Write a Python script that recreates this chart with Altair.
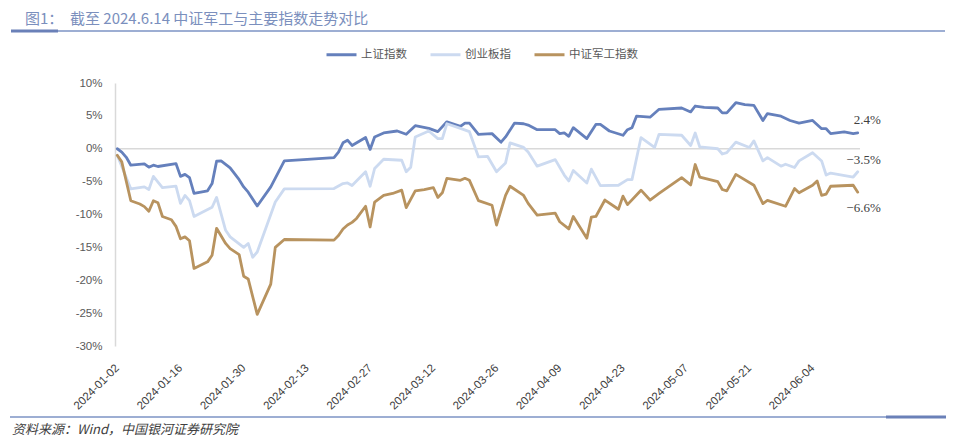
import altair as alt
import pandas as pd

SERIES = ["上证指数", "创业板指", "中证军工指数"]
COLORS = ["#6580BC", "#CCDAF0", "#B8935F"]

TITLE_NO = "图1："
TITLE = "截至 2024.6.14 中证军工与主要指数走势对比"
SOURCE = "资料来源：Wind，中国银河证券研究院"

TICK_DATES = [(1, 2), (1, 16), (1, 30), (2, 13), (2, 27), (3, 12), (3, 26),
              (4, 9), (4, 23), (5, 7), (5, 21), (6, 4)]
Y_TICKS = [-30, -25, -20, -15, -10, -5, 0, 5, 10]

# 上证指数
sh_dates = ["2024-01-02", "2024-01-03", "2024-01-04", "2024-01-05", "2024-01-08", "2024-01-09",
            "2024-01-10", "2024-01-11", "2024-01-15", "2024-01-16", "2024-01-17", "2024-01-18",
            "2024-01-19", "2024-01-22", "2024-01-23", "2024-01-24", "2024-01-25", "2024-01-27",
            "2024-01-29", "2024-01-30", "2024-01-31", "2024-02-02", "2024-02-05", "2024-02-08",
            "2024-02-19", "2024-02-20", "2024-02-21", "2024-02-22", "2024-02-23", "2024-02-26",
            "2024-02-27", "2024-02-28", "2024-03-01", "2024-03-04", "2024-03-06", "2024-03-08",
            "2024-03-11", "2024-03-13", "2024-03-15", "2024-03-18", "2024-03-19", "2024-03-20",
            "2024-03-22", "2024-03-25", "2024-03-27", "2024-03-28", "2024-03-30", "2024-04-01",
            "2024-04-02", "2024-04-04", "2024-04-08", "2024-04-09", "2024-04-10", "2024-04-11",
            "2024-04-12", "2024-04-15", "2024-04-17", "2024-04-18", "2024-04-20", "2024-04-23",
            "2024-04-24", "2024-04-25", "2024-04-26", "2024-04-29", "2024-05-01", "2024-05-06",
            "2024-05-08", "2024-05-09", "2024-05-11", "2024-05-14", "2024-05-15", "2024-05-16",
            "2024-05-18", "2024-05-20", "2024-05-22", "2024-05-24", "2024-05-25", "2024-05-28",
            "2024-05-30", "2024-06-01", "2024-06-04", "2024-06-06", "2024-06-07", "2024-06-08",
            "2024-06-11", "2024-06-13", "2024-06-14"]
sh_vals = [0.0, -0.5, -1.3, -2.5, -2.3, -2.8,
           -2.5, -2.7, -2.25, -4.2, -3.9, -4.4,
           -6.8, -6.4, -5.3, -1.9, -1.85, -2.9,
           -4.7, -5.8, -6.6, -8.7, -5.8, -1.85,
           -1.35, -0.5, 0.9, 1.3, 0.5, 1.7,
           -0.1, 1.8, 2.4, 2.7, 2.2, 3.5,
           3.1, 2.6, 4.1, 3.4, 3.9, 3.9,
           2.2, 2.3, 1.0, 1.8, 3.9, 3.8,
           3.6, 2.9, 2.9, 2.3, 2.4, 1.9,
           3.2, 1.55, 3.7, 3.7, 2.7, 2.05,
           2.9, 3.2, 4.95, 4.8, 6.0, 6.2,
           5.6, 6.5, 6.3, 6.2, 5.45, 5.45,
           7.0, 6.7, 6.6, 4.3, 5.35, 4.95,
           4.3, 3.9, 4.3, 3.05, 3.05, 2.3,
           2.55, 2.3, 2.4]

# 创业板指
cy_dates = ["2024-01-02", "2024-01-05", "2024-01-08", "2024-01-09", "2024-01-10", "2024-01-12",
            "2024-01-15", "2024-01-16", "2024-01-17", "2024-01-18", "2024-01-19", "2024-01-23",
            "2024-01-24", "2024-01-26", "2024-01-27", "2024-01-30", "2024-01-31", "2024-02-01",
            "2024-02-02", "2024-02-06", "2024-02-08", "2024-02-19", "2024-02-21", "2024-02-22",
            "2024-02-23", "2024-02-26", "2024-02-27", "2024-02-28", "2024-03-01", "2024-03-05",
            "2024-03-06", "2024-03-07", "2024-03-08", "2024-03-11", "2024-03-13", "2024-03-14",
            "2024-03-15", "2024-03-18", "2024-03-20", "2024-03-22", "2024-03-24", "2024-03-26",
            "2024-03-28", "2024-03-29", "2024-04-01", "2024-04-02", "2024-04-04", "2024-04-08",
            "2024-04-10", "2024-04-11", "2024-04-12", "2024-04-15", "2024-04-16", "2024-04-18",
            "2024-04-22", "2024-04-24", "2024-04-25", "2024-04-27", "2024-04-30", "2024-05-01",
            "2024-05-06", "2024-05-08", "2024-05-09", "2024-05-10", "2024-05-14", "2024-05-15",
            "2024-05-16", "2024-05-18", "2024-05-21", "2024-05-22", "2024-05-24", "2024-05-25",
            "2024-05-28", "2024-05-29", "2024-05-31", "2024-06-01", "2024-06-04", "2024-06-06",
            "2024-06-07", "2024-06-08", "2024-06-13", "2024-06-14"]
cy_vals = [-1.0, -6.1, -5.8, -6.2, -4.2, -5.9,
           -5.7, -8.3, -7.1, -7.9, -10.3, -8.9,
           -7.4, -12.4, -13.4, -15.0, -14.4, -16.5,
           -15.7, -8.1, -6.1, -6.05, -5.3, -5.2,
           -5.6, -3.5, -5.7, -3.0, -1.6, -1.75,
           -3.5, -2.8, 1.8, 2.7, 1.55, 1.55,
           3.8, 3.1, 2.6, -1.25, -1.15, -3.5,
           -2.15, 0.9, 0.2, -0.5, -2.65, -1.65,
           -4.0, -4.9, -3.3, -5.2, -3.1, -5.6,
           -5.55, -4.7, -4.7, 1.7, 0.2, 2.2,
           2.05, 0.5, 2.4, 0.3, 0.0, -0.8,
           -0.6, 1.0, 0.2, 1.2, -1.85, -1.35,
           -2.65, -2.35, -2.85, -1.85, -0.6, -1.85,
           -4.0, -3.7, -4.3, -3.5]

# 中证军工指数
jg_dates = ["2024-01-02", "2024-01-03", "2024-01-05", "2024-01-07", "2024-01-08", "2024-01-09",
            "2024-01-10", "2024-01-11", "2024-01-12", "2024-01-14", "2024-01-15", "2024-01-16",
            "2024-01-17", "2024-01-18", "2024-01-19", "2024-01-22", "2024-01-23", "2024-01-24",
            "2024-01-26", "2024-01-27", "2024-01-29", "2024-01-30", "2024-01-31", "2024-02-02",
            "2024-02-05", "2024-02-06", "2024-02-08", "2024-02-19", "2024-02-20", "2024-02-21",
            "2024-02-22", "2024-02-23", "2024-02-24", "2024-02-26", "2024-02-27", "2024-02-28",
            "2024-03-01", "2024-03-03", "2024-03-05", "2024-03-06", "2024-03-08", "2024-03-10",
            "2024-03-12", "2024-03-13", "2024-03-14", "2024-03-15", "2024-03-18", "2024-03-19",
            "2024-03-20", "2024-03-22", "2024-03-25", "2024-03-26", "2024-03-28", "2024-03-29",
            "2024-04-01", "2024-04-02", "2024-04-04", "2024-04-08", "2024-04-09", "2024-04-11",
            "2024-04-12", "2024-04-15", "2024-04-16", "2024-04-17", "2024-04-19", "2024-04-22",
            "2024-04-23", "2024-04-24", "2024-04-27", "2024-04-29", "2024-05-01", "2024-05-06",
            "2024-05-08", "2024-05-09", "2024-05-10", "2024-05-14", "2024-05-15", "2024-05-16",
            "2024-05-18", "2024-05-22", "2024-05-24", "2024-05-25", "2024-05-29", "2024-05-31",
            "2024-06-01", "2024-06-04", "2024-06-05", "2024-06-06", "2024-06-07", "2024-06-08",
            "2024-06-13", "2024-06-14"]
jg_vals = [-1.0, -2.0, -7.9, -8.4, -8.8, -9.5,
           -7.9, -8.2, -10.3, -10.8, -11.8, -13.7,
           -13.4, -14.0, -18.2, -17.2, -16.2, -12.1,
           -14.4, -15.2, -16.1, -19.4, -19.8, -25.2,
           -20.6, -15.0, -13.8, -13.9, -13.2, -12.2,
           -11.6, -11.2, -10.6, -8.75, -11.9, -8.1,
           -7.1, -6.8, -6.3, -8.95, -6.4, -6.2,
           -5.9, -7.4, -6.7, -4.5, -4.8, -4.5,
           -4.8, -7.9, -8.6, -11.6, -7.1, -5.7,
           -7.1, -8.3, -10.1, -9.8, -11.1, -12.2,
           -10.3, -13.6, -10.4, -10.3, -7.8, -9.2,
           -7.2, -8.5, -6.3, -7.8, -6.8, -4.4,
           -5.5, -2.4, -4.3, -5.0, -6.2, -6.4,
           -3.9, -5.55, -8.35, -7.85, -8.75, -6.05,
           -6.7, -5.55, -4.9, -7.1, -6.9, -5.7,
           -5.55, -6.6]


def frame(name, dates, vals):
    return pd.DataFrame({"date": dates, "value": vals, "series": name})


frames = [frame(SERIES[0], sh_dates, sh_vals),
          frame(SERIES[1], cy_dates, cy_vals),
          frame(SERIES[2], jg_dates, jg_vals)]

CJK = "Noto Sans CJK SC"

x_enc = alt.X(
    "date:T",
    scale=alt.Scale(
        type="utc",
        domain=[alt.DateTime(year=2024, month=1, date=1, hours=12, utc=True),
                alt.DateTime(year=2024, month=6, date=14, hours=12, utc=True)],
    ),
    axis=alt.Axis(
        values=[alt.DateTime(year=2024, month=m, date=d, utc=True) for m, d in TICK_DATES],
        labelExpr="utcFormat(datum.value, '%Y-%m-%d')", labelAngle=-45, labelAlign="right",
        labelBaseline="middle", labelPadding=20, domain=False, ticks=False, grid=False,
        labelFont="Liberation Sans", labelFontSize=11.5, labelColor="#404040", title=None,
        labelOverlap=False,
    ),
)
y_enc = alt.Y(
    "value:Q",
    scale=alt.Scale(domain=[-30, 10], nice=False, zero=False),
    axis=alt.Axis(
        values=Y_TICKS, labelExpr="datum.value + '%'", domain=True, domainColor="#d9d9d9",
        domainWidth=1.5, ticks=False, grid=False, labelPadding=13, labelFontSize=11.5,
        labelColor="#595959", labelFont="Liberation Sans", title=None,
    ),
)
color_enc = alt.Color(
    "series:N",
    scale=alt.Scale(domain=SERIES, range=COLORS),
    legend=alt.Legend(
        title=None, orient="none", legendX=210, legendY=-45, direction="horizontal",
        symbolType="stroke", symbolStrokeWidth=3, symbolSize=900, labelFont=CJK,
        labelFontSize=11.5, labelColor="#595959", labelOffset=3, columnPadding=17,
        padding=0,
    ),
)

zero_rule = alt.Chart(pd.DataFrame({"value": [0]})).mark_rule(
    color="#d9d9d9", strokeWidth=1.3
).encode(y=y_enc)

lines = [
    alt.Chart(f).mark_line(strokeWidth=2.8, strokeJoin="round", strokeCap="round").encode(
        x=x_enc, y=y_enc, color=color_enc
    )
    for f in frames
]

label_dy = [-13, -12, 16]
end_labels = [
    alt.Chart(f.tail(1)).transform_calculate(
        label="format(datum.value, '.1f') + '%'"
    ).mark_text(
        align="right", baseline="middle", dx=23, dy=dy, font="Liberation Serif",
        fontSize=13, color="#404040"
    ).encode(x=x_enc, y=y_enc, text="label:N")
    for f, dy in zip(frames, label_dy)
]

one = pd.DataFrame({"k": [0]})


def deco_rule(x1, x2, y, color, width):
    return alt.Chart(one).mark_rule(color=color, strokeWidth=width).encode(
        x=alt.value(x1), x2=alt.value(x2), y=alt.value(y)
    )


def deco_text(x, y, txt, **kw):
    return alt.Chart(one).mark_text(align="left", baseline="middle", **kw).encode(
        x=alt.value(x), y=alt.value(y), text=alt.value(txt)
    )


decor = [
    deco_text(-90, -64.5, TITLE_NO, font=CJK, fontSize=15, color="#7B8FBD"),
    deco_text(-45, -64.5, TITLE, font=CJK, fontSize=15, color="#7B8FBD"),
    deco_rule(-57, 830, -52, "#7C93C4", 1.3),
    deco_rule(-104, -57, -52, "#6A80B8", 2.8),
    deco_rule(-105, 831, 334, "#7C93C4", 1.3),
    deco_rule(771, 831, 334, "#6A80B8", 2.8),
    deco_text(-103, 347, SOURCE, font=CJK, fontSize=13, fontStyle="italic", color="#404040"),
]

chart = alt.layer(zero_rule, *lines, *end_labels, *decor).properties(
    width=745,
    height=263,
    autosize=alt.AutoSizeParams(type="none"),
    padding={"left": 107, "top": 75, "right": 108, "bottom": 92},
    background="white",
).configure_view(stroke=None)

chart.save("out.html", embed_options={"renderer": "svg", "actions": False})
